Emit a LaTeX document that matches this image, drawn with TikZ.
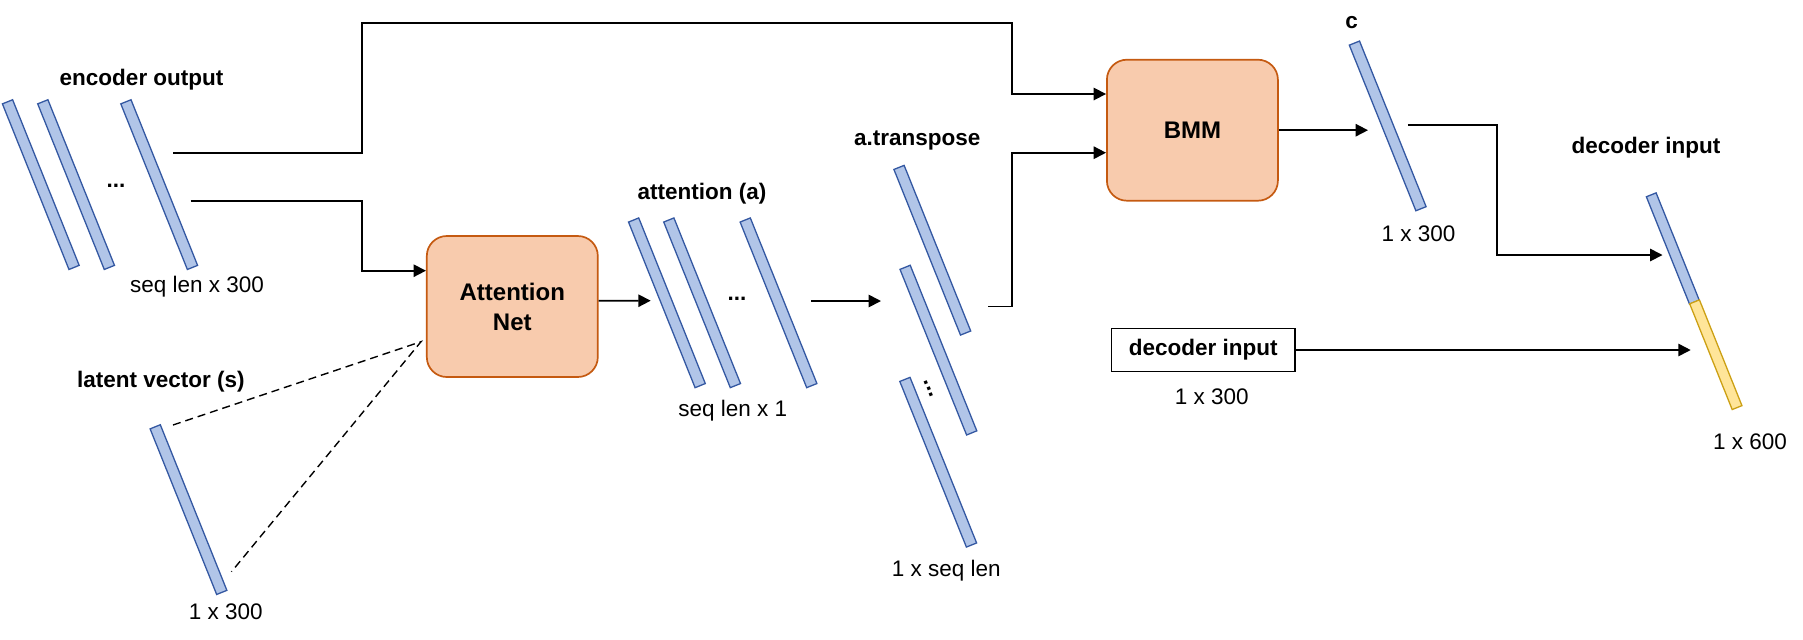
\documentclass[tikz,border=0pt]{standalone}
\usepackage{fontspec}
\setmainfont{Liberation Sans}
\usetikzlibrary{arrows.meta}
\newcommand{\figfont}{\fontsize{11.25}{15}\selectfont}

\begin{document}
\begin{tikzpicture}[x=0.5pt,y=-0.5pt,
	vec/.style={draw=cvecline,fill=cvec,line width=0.65pt,inner sep=0pt,minimum width=89.25pt,minimum height=5.5pt,rotate=-68.1},
	net/.style={draw=cnetline,fill=cnet,line width=0.85pt,rounded corners=10pt,minimum width=85.5pt,minimum height=70.5pt,align=center,font=\fontsize{12}{15}\selectfont\bfseries},
	txt/.style={inner sep=0pt,font=\figfont},
	head/.style={inner sep=0pt,font=\figfont\bfseries},
	flow/.style={line width=0.85pt,-{Triangle[length=6.2pt,width=6.2pt]}},
	dashline/.style={line width=0.7pt,dash pattern=on 4pt off 2.5pt}]
\definecolor{cvec}{RGB}{177,197,232}        %lightblue
\definecolor{cvecline}{RGB}{52,88,162}      %darkblue
\definecolor{cnet}{RGB}{248,203,173}        %peach
\definecolor{cnetline}{RGB}{197,90,17}      %orange
\definecolor{cpad}{RGB}{255,229,153}        %lightyellow
\definecolor{cpadline}{RGB}{204,160,20}     %darkyellow
\useasboundingbox (0,0) rectangle (1803,639);

% encoder output
\node[vec] (enc1) at (40.8,184.6) {};
\node[vec] (enc2) at (76.1,184.6) {};
\node[vec] (enc3) at (159.2,184.6) {};
\node[head] (encdots) at (116,186) {...};
\node[head] (enclabel) at (141.6,80) {encoder output};
\node[txt] (encsize) at (197,287) {seq len x 300};

% latent vector
\node[vec] (lat) at (188.5,509.6) {};
\node[head] (latlabel) at (160.8,381.7) {latent vector (s)};
\node[txt] (latsize) at (225.8,611.7) {1 x 300};

% attention
\node[net] (attnet) at (512.3,306.5) {Attention\\Net};
\node[vec] (att1) at (666.9,302.8) {};
\node[vec] (att2) at (702.1,302.8) {};
\node[vec] (att3) at (778.5,302.8) {};
\node[head] (attdots) at (737,298.6) {...};
\node[head] (attlabel) at (702,193.8) {attention (a)};
\node[txt] (attsize) at (732.8,411) {seq len x 1};

% a.transpose
\node[vec] (tr1) at (932.3,250.2) {};
\node[vec] (tr2) at (938.4,350.1) {};
\node[vec] (tr3) at (938.2,462.2) {};
\node[head,rotate=-68] (trdots) at (929,389) {...};
\node[head] (trlabel) at (917.3,140.5) {a.transpose};
\node[txt] (trsize) at (946.3,570.8) {1 x seq len};

% bmm and c
\node[net] (bmm) at (1192.4,130.2) {BMM};
\node[vec] (cvec) at (1387.7,125.9) {};
\node[head] (clabel) at (1351.6,22.7) {c};
\node[txt] (csize) at (1418.6,233.3) {1 x 300};

% decoder input
\node[draw,line width=0.85pt,minimum width=91.75pt,minimum height=21.5pt,inner sep=0pt,font=\figfont\bfseries] (decbox) at (1203.2,350) {decoder input};
\node[txt] (decboxsize) at (1211.8,396.7) {1 x 300};
\node[vec,minimum width=57.85pt,minimum height=5.25pt] (decc) at (1672.8,248.5) {};
\node[vec,draw=cpadline,fill=cpad,minimum width=57pt,minimum height=5.25pt] (decin) at (1715.8,354.7) {};
\node[head] (declabel) at (1646,147.7) {decoder input};
\node[txt] (decsize) at (1750,441.7) {1 x 600};

% connectors
\coordinate (e1) at (173,152.7);
\coordinate (e2) at (190.6,200.7);
\coordinate (a0) at (650.7,300.7);
\coordinate (a1) at (811,301);
\coordinate (t0) at (881,301);
\coordinate (t1) at (988.3,306.6);
\coordinate (c0) at (1368,130.2);
\coordinate (c1) at (1407.8,125);
\coordinate (d0) at (1662.5,255);
\coordinate (d1) at (1690.7,350);
\coordinate (s0) at (421,341.7);
\coordinate (s1) at (173,425);
\coordinate (s2) at (231.5,571.7);
\draw[flow] (e1) -- (361.7,152.7) |- (1011.7,22.7) |- ([yshift=18.1pt]bmm.west);
\draw[flow] (e2) -- (361.7,200.7) |- ([yshift=17.9pt]attnet.west);
\draw[flow] ([yshift=2.9pt]attnet.east) -- (a0);
\draw[flow] (a1) -- (t0);
\draw[flow] (t1) -- (1011.7,306.6) |- ([yshift=-11.25pt]bmm.west);
\draw[flow] (bmm.east) -- (c0);
\draw[flow] (c1) -- (1496.7,125) |- (d0);
\draw[flow] (decbox.east) -- (d1);
\draw[dashline] (s1) -- (s0) -- (s2);
\end{tikzpicture}
\end{document}
